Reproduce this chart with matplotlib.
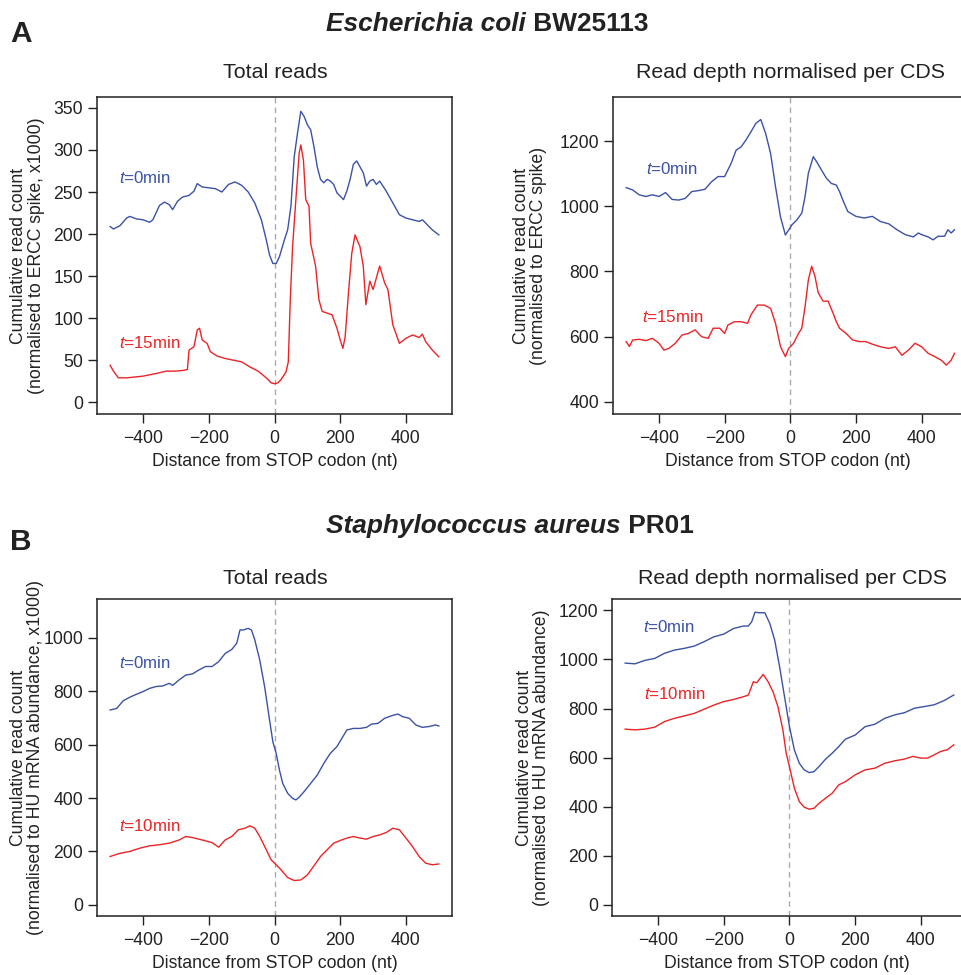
import matplotlib
matplotlib.use("Agg")
import matplotlib.pyplot as plt

plt.rcParams['font.family'] = ['Liberation Sans', 'DejaVu Sans']
plt.rcParams['mathtext.fontset'] = 'custom'
plt.rcParams['mathtext.rm'] = 'Liberation Sans'
plt.rcParams['mathtext.it'] = 'Liberation Sans:italic'
plt.rcParams['mathtext.bf'] = 'Liberation Sans:bold'

# ---------------- DATA ----------------
# Panel A, Total reads (E. coli)
a_tot_t0_x = [-500, -490, -470, -450, -440, -420, -400, -380, -370, -350, -335, -320, -310, -295, -280,
              -260, -245, -235, -220, -200, -180, -160, -140, -120, -100, -80, -60, -40, -25, -15, -5,
              5, 15, 30, 40, 50, 60, 70, 80, 90, 100, 110, 120, 130, 140, 150, 160, 170, 180, 190, 200,
              210, 220, 230, 240, 250, 260, 270, 280, 290, 300, 310, 320, 330, 340, 360, 380, 400, 420,
              440, 450, 460, 480, 500]
a_tot_t0_y = [209, 206, 210, 219, 221, 218, 217, 214, 217, 234, 238, 235, 229, 239, 244,
              246, 251, 260, 256, 255, 254, 250, 259, 262, 258, 250, 237, 217, 193, 175, 165,
              165, 173, 193, 205, 233, 292, 320, 346, 340, 330, 324, 304, 280, 265, 261, 265, 263, 259, 249, 245,
              241, 251, 265, 283, 287, 280, 273, 257, 263, 265, 259, 263, 257, 251, 237, 223, 219, 217,
              215, 217, 213, 205, 199]
a_tot_t15_x = [-500, -490, -475, -450, -400, -375, -350, -330, -300, -275, -265, -260, -245, -235, -228,
               -220, -205, -195, -175, -150, -125, -100, -75, -50, -25, -10, 0, 10, 20, 35, 42, 48, 55,
               65, 75, 80, 88, 95, 105, 110, 125, 135, 145, 160, 175, 190, 200, 208, 215, 225, 235, 245,
               260, 270, 278, 290, 300, 310, 320, 335, 345, 360, 380, 400, 420, 440, 450, 460, 480, 500]
a_tot_t15_y = [44, 37, 29, 29, 31, 33, 35, 37, 37, 38, 39, 62, 66, 86, 88,
               74, 70, 60, 55, 52, 50, 48, 42, 37, 29, 23, 22, 23, 27, 36, 48, 122, 185,
               241, 296, 306, 288, 241, 233, 189, 162, 122, 108, 106, 104, 88, 74, 64, 78, 130, 177, 199,
               185, 162, 116, 144, 134, 148, 162, 142, 134, 92, 70, 76, 80, 77, 81, 72, 62, 54]

# Panel A, Read depth normalised per CDS (E. coli)
a_cds_t0_x = [-500, -480, -460, -440, -420, -400, -380, -360, -340, -320, -300, -280, -260, -240, -220,
              -200, -180, -165, -150, -135, -120, -105, -90, -75, -60, -45, -30, -15, -5, 5, 20, 35,
              45, 55, 70, 80, 95, 110, 125, 140, 150, 160, 175, 200, 225, 250, 275, 300, 325, 350,
              375, 390, 400, 420, 435, 450, 470, 480, 490, 500]
a_cds_t0_y = [1057, 1050, 1035, 1030, 1035, 1030, 1042, 1021, 1019, 1024, 1045, 1048, 1052, 1075, 1091,
              1091, 1132, 1172, 1182, 1203, 1228, 1254, 1266, 1223, 1162, 1060, 968, 912, 927, 943, 958, 979,
              1030, 1101, 1152, 1137, 1111, 1086, 1070, 1065, 1045, 1019, 984, 969, 964, 969, 953, 946, 928, 913,
              906, 918, 913, 906, 897, 908, 908, 928, 918, 928]
a_cds_t15_x = [-500, -490, -480, -460, -440, -420, -400, -385, -370, -350, -330, -310, -290, -270, -250,
               -235, -215, -200, -190, -170, -150, -130, -120, -100, -80, -60, -45, -30, -15, -5, 10,
               25, 35, 45, 55, 65, 75, 85, 100, 115, 130, 140, 150, 170, 190, 210, 230, 250, 275, 300,
               320, 340, 360, 380, 400, 420, 440, 460, 475, 490, 500]
a_cds_t15_y = [585, 570, 590, 592, 588, 595, 580, 559, 564, 580, 605, 610, 621, 600, 595,
               626, 626, 610, 636, 646, 646, 641, 667, 697, 697, 687, 641, 570, 539, 564, 580,
               610, 626, 692, 774, 816, 786, 735, 709, 709, 673, 646, 626, 610, 590, 585, 585, 577, 569, 564,
               569, 543, 559, 580, 569, 549, 539, 528, 513, 528, 549]

# Panel B, Total reads (S. aureus)
b_tot_t0_x = [-500, -480, -460, -440, -420, -400, -380, -360, -340, -320, -310, -290, -270, -250, -230,
              -210, -190, -170, -150, -130, -115, -105, -95, -80, -70, -60, -45, -30, -15, -5, 5, 15,
              25, 40, 55, 65, 75, 90, 110, 130, 150, 170, 190, 205, 220, 240, 260, 280, 295, 315, 335,
              355, 375, 390, 410, 430, 450, 470, 490, 500]
b_tot_t0_y = [730, 736, 765, 778, 789, 799, 811, 818, 820, 830, 822, 843, 861, 865, 880,
              893, 893, 911, 942, 957, 980, 1030, 1030, 1036, 1030, 993, 918, 817, 692, 611, 568, 505,
              455, 418, 399, 393, 403, 424, 455, 486, 530, 568, 593, 624, 655, 661, 661, 665, 677, 680, 699,
              708, 715, 705, 699, 674, 665, 668, 674, 670]
b_tot_t10_x = [-500, -470, -440, -410, -380, -350, -320, -290, -270, -250, -220, -190, -170, -150, -130,
               -110, -90, -75, -60, -45, -25, -10, 5, 20, 40, 60, 80, 100, 120, 140, 160, 180, 200,
               220, 240, 260, 280, 300, 320, 340, 360, 380, 400, 420, 440, 460, 480, 500]
b_tot_t10_y = [181, 193, 200, 212, 221, 225, 231, 243, 256, 252, 243, 233, 216, 243, 256,
               281, 287, 296, 287, 256, 206, 168, 150, 131, 102, 91, 93, 112, 146, 181, 206, 231, 241,
               250, 256, 250, 246, 256, 262, 271, 287, 281, 250, 218, 181, 156, 150, 153]

# Panel B, Read depth normalised per CDS (S. aureus)
b_cds_t0_x = [-500, -470, -440, -410, -380, -350, -320, -290, -260, -230, -200, -170, -140, -125, -115,
              -105, -90, -75, -60, -45, -30, -15, 0, 15, 30, 45, 60, 75, 90, 110, 130, 150, 170, 200,
              230, 260, 290, 320, 350, 380, 410, 440, 470, 500]
b_cds_t0_y = [985, 982, 996, 1004, 1025, 1038, 1045, 1054, 1072, 1092, 1103, 1126, 1136, 1136, 1153,
              1192, 1190, 1190, 1147, 1079, 970, 848, 726, 631, 577, 550, 539, 543, 564, 594, 618, 645, 675, 692,
              726, 736, 760, 774, 783, 801, 808, 815, 832, 855]
b_cds_t10_x = [-500, -470, -440, -410, -380, -350, -320, -290, -260, -230, -200, -170, -140, -125, -110,
               -100, -80, -65, -50, -35, -20, -10, 0, 15, 30, 45, 60, 75, 90, 110, 130, 150, 170, 200,
               230, 260, 290, 320, 350, 375, 400, 420, 440, 460, 480, 500]
b_cds_t10_y = [716, 713, 716, 724, 747, 760, 770, 780, 797, 814, 828, 837, 848, 855, 909,
               905, 939, 909, 868, 807, 713, 618, 563, 475, 421, 398, 390, 394, 414, 435, 455, 489, 502, 530,
               550, 557, 577, 587, 594, 605, 598, 598, 611, 625, 632, 652]

x_ticks = [-400, -200, 0, 200, 400]
a_tot_yticks = [0, 50, 100, 150, 200, 250, 300, 350]
a_cds_yticks = [400, 600, 800, 1000, 1200]
b_tot_yticks = [0, 200, 400, 600, 800, 1000]
b_cds_yticks = [0, 200, 400, 600, 800, 1000, 1200]

# ---------------- STYLE ----------------
W, H = 962, 975
BLUE = '#3B52A6'
RED = '#EE2326'
TXT = '#222222'

fig = plt.figure(figsize=(W / 100, H / 100), dpi=100)


def px_axes(l, t, r, b):
    return fig.add_axes([l / W, 1 - b / H, (r - l) / W, (b - t) / H])


def style_ax(ax, yticks, ylim, ylabel, label_x):
    ax.set_xlim(-540, 540)
    ax.set_ylim(*ylim)
    ax.set_xticks(x_ticks)
    ax.set_xticklabels(['\u2212400', '\u2212200', '0', '200', '400'])
    ax.set_yticks(yticks)
    for s in ax.spines.values():
        s.set_linewidth(1.1)
        s.set_color('#222222')
    ax.tick_params(direction='out', length=6.5, width=1.0, labelsize=12.7, pad=3.5, colors='#222222',
                   labelcolor=TXT)
    ax.tick_params(axis='x', pad=5)
    ax.set_xlabel('Distance from STOP codon (nt)', fontsize=12.7, labelpad=4, color=TXT)
    ax.set_ylabel(ylabel, fontsize=12.7, color=TXT, multialignment='center', linespacing=1.05,
                  va='center')
    ax.yaxis.set_label_coords(label_x, 0.5)
    ax.axvline(0, color='#aaaaaa', lw=1.0, ls=(0, (4, 3)), zorder=1)


def anno(ax, x, y, label, color):
    ax.text(x, y, r'$\mathit{t}$=' + label, color=color, fontsize=12.2, ha='left', va='center')


# Panel A left
ax1 = px_axes(97, 97, 452, 414)
ax1.plot(a_tot_t0_x, a_tot_t0_y, color=BLUE, lw=1.0, zorder=3)
ax1.plot(a_tot_t15_x, a_tot_t15_y, color=RED, lw=1.0, zorder=3)
style_ax(ax1, a_tot_yticks, (-14, 363), 'Cumulative read count\n(normalised to ERCC spike, x1000)', -0.195)
anno(ax1, -474, 267, '0min', BLUE)
anno(ax1, -474, 71, '15min', RED)

# Panel A right
ax2 = px_axes(613, 97, 962, 414)
ax2.plot(a_cds_t0_x, a_cds_t0_y, color=BLUE, lw=1.0, zorder=3)
ax2.plot(a_cds_t15_x, a_cds_t15_y, color=RED, lw=1.0, zorder=3)
style_ax(ax2, a_cds_yticks, (363, 1335), 'Cumulative read count\n(normalised to ERCC spike)', -0.238)
ax2.set_xlim(-540, 523)
anno(ax2, -441, 1115, '0min', BLUE)
anno(ax2, -453, 661, '15min', RED)

# Panel B left
ax3 = px_axes(97, 599, 452, 916)
ax3.plot(b_tot_t0_x, b_tot_t0_y, color=BLUE, lw=1.0, zorder=3)
ax3.plot(b_tot_t10_x, b_tot_t10_y, color=RED, lw=1.0, zorder=3)
style_ax(ax3, b_tot_yticks, (-42, 1146), 'Cumulative read count\n(normalised to HU mRNA abundance, x1000)', -0.197)
anno(ax3, -472, 908, '0min', BLUE)
anno(ax3, -472, 296, '10min', RED)

# Panel B right
ax4 = px_axes(612, 599, 962, 916)
ax4.plot(b_cds_t0_x, b_cds_t0_y, color=BLUE, lw=1.0, zorder=3)
ax4.plot(b_cds_t10_x, b_cds_t10_y, color=RED, lw=1.0, zorder=3)
style_ax(ax4, b_cds_yticks, (-45, 1246), 'Cumulative read count\n(normalised to HU mRNA abundance)', -0.226)
ax4.set_xlim(-540, 525)
anno(ax4, -447, 1131, '0min', BLUE)
anno(ax4, -442, 858, '10min', RED)

# Subtitles
for (cx, by, s) in [(275, 78, 'Total reads'), (791, 78, 'Read depth normalised per CDS'),
                    (275, 584, 'Total reads'), (792, 584, 'Read depth normalised per CDS')]:
    fig.text(cx / W, 1 - by / H, s, fontsize=15.4, ha='center', va='baseline', color=TXT)

# Panel letters
fig.text(10 / W, 1 - 42 / H, 'A', fontsize=21.5, fontweight='bold', ha='left', va='baseline', color=TXT)
fig.text(10 / W, 1 - 550 / H, 'B', fontsize=21.5, fontweight='bold', ha='left', va='baseline', color=TXT)

# Rich titles
renderer = fig.canvas.get_renderer()


def rich(x_px, y_px, pieces, size):
    cur = x_px
    for s, st, wt in pieces:
        t = fig.text(cur / W, 1 - y_px / H, s, fontsize=size, fontstyle=st, fontweight=wt,
                     ha='left', va='baseline', color=TXT)
        bb = t.get_window_extent(renderer)
        cur += bb.width


rich(326, 31, [('Escherichia coli', 'italic', 'bold'), ('\u00a0BW25113', 'normal', 'bold')], 18.9)
rich(326, 533, [('Staphylococcus aureus', 'italic', 'bold'), ('\u00a0PR01', 'normal', 'bold')], 18.9)

fig.savefig('out.png', dpi=100)
